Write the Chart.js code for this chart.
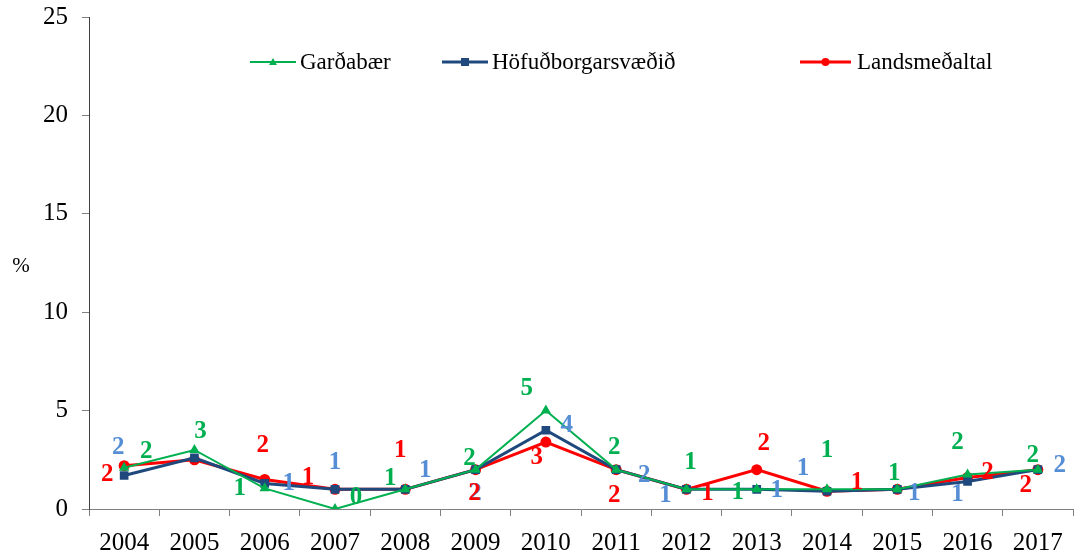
<!DOCTYPE html>
<html>
<head>
<meta charset="utf-8">
<script src="https://cdn.jsdelivr.net/npm/chart.js@4.4.1/dist/chart.umd.min.js"></script>
<style>
  html, body { margin: 0; padding: 0; background: #fff; }
  #wrap { width: 1080px; height: 557px; position: relative; }
</style>
</head>
<body>
<div id="wrap"><canvas id="chart" width="1080" height="557"></canvas></div>
<script>
const years = ['2004', '2005', '2006', '2007', '2008', '2009', '2010', '2011', '2012', '2013', '2014', '2015', '2016', '2017'];
const gardabaer = [2.1, 3.0, 1.05, 0.0, 1.0, 2.0, 5.0, 2.0, 1.0, 1.0, 1.0, 1.0, 1.75, 2.0];
const hofudborg = [1.7, 2.6, 1.3, 1.0, 1.0, 2.0, 4.0, 2.0, 1.0, 1.0, 0.9, 1.0, 1.4, 2.0];
const landsmedal = [2.2, 2.5, 1.5, 1.0, 1.0, 2.0, 3.4, 2.0, 1.0, 2.0, 0.9, 1.0, 1.6, 2.0];
const yTicks = [0, 5, 10, 15, 20, 25];

// where each value label sits relative to its point (px), null = no label
const greenLabelPos = [[22,-16],[6,-18],[-25,0],[21,-11],[-15,-11],[-6,-11],[-19,-22],[-2,-22],[4,-27],[-19,3],[0,-39],[-3,-16],[-10,-32],[-5,-14]];
const blueLabelPos = [[-6,-28],null,[24,0],[0,-27],[20,-19],[0,24],[21,-5],[28,6],[-21,6],[20,1],[-24,-23],[17,4],[-10,13],[22,-4]];
const redLabelPos = [[-17,9],null,[-2,-34],[-27,-12],[-5,-39],[-1,24],[-9,15],[-2,26],[21,4],[7,-26],[30,-9],null,[20,-5],[-12,16]];

const serif = "'Liberation Serif', 'Times New Roman', serif";

const valueLabels = {
  id: 'valueLabels',
  afterDatasetsDraw(chart) {
    const ctx = chart.ctx;
    ctx.save();
    ctx.font = 'bold 25px ' + serif;
    ctx.textAlign = 'center';
    ctx.textBaseline = 'middle';
    chart.data.datasets.forEach((ds, di) => {
      const meta = chart.getDatasetMeta(di);
      ctx.fillStyle = ds.labelColor;
      ds.data.forEach((v, i) => {
        const off = ds.labelPos[i];
        if (!off) return;
        const pt = meta.data[i];
        ctx.fillText(String(Math.round(v)), pt.x + off[0], pt.y + off[1]);
      });
    });
    ctx.restore();
  }
};

const extras = {
  id: 'extras',
  afterDraw(chart) {
    const ctx = chart.ctx;
    ctx.save();
    ctx.fillStyle = '#000';
    ctx.font = '21px ' + serif;
    ctx.textAlign = 'center';
    ctx.textBaseline = 'middle';
    ctx.fillText('%', 21, 266);

    // legend inside the plot
    const items = [
      { x: 250, w: 46, tx: 300, ds: 0 },
      { x: 442, w: 46, tx: 492, ds: 1 },
      { x: 800, w: 51, tx: 857, ds: 2 }
    ];
    const y = 62;
    ctx.textAlign = 'left';
    ctx.font = '23px ' + serif;
    items.forEach(it => {
      const ds = chart.data.datasets[it.ds];
      ctx.strokeStyle = ds.borderColor;
      ctx.lineWidth = ds.borderWidth;
      ctx.beginPath();
      ctx.moveTo(it.x, y);
      ctx.lineTo(it.x + it.w, y);
      ctx.stroke();
      const cx = it.x + it.w / 2;
      ctx.fillStyle = ds.borderColor;
      ctx.beginPath();
      if (ds.pointStyle === 'triangle') {
        ctx.moveTo(cx, y - 4); ctx.lineTo(cx + 4, y + 3); ctx.lineTo(cx - 4, y + 3); ctx.closePath();
      } else if (ds.pointStyle === 'rect') {
        ctx.rect(cx - 4, y - 4, 8, 8);
      } else {
        ctx.arc(cx, y, 4, 0, Math.PI * 2);
      }
      ctx.fill();
      ctx.fillStyle = '#000';
      ctx.fillText(ds.label, it.tx, y + 1);
    });
    ctx.restore();
  }
};

new Chart(document.getElementById('chart'), {
  type: 'line',
  data: {
    labels: years,
    datasets: [
      {
        label: 'Garðabær', data: gardabaer, borderColor: '#00b050', backgroundColor: '#00b050',
        borderWidth: 2, pointStyle: 'triangle', pointRadius: 4, tension: 0,
        labelColor: '#00b050', labelPos: greenLabelPos
      },
      {
        label: 'Höfuðborgarsvæðið', data: hofudborg, borderColor: '#1f497d', backgroundColor: '#1f497d',
        borderWidth: 3, pointStyle: 'rect', pointRadius: 4, tension: 0,
        labelColor: '#558ed5', labelPos: blueLabelPos
      },
      {
        label: 'Landsmeðaltal', data: landsmedal, borderColor: '#ff0000', backgroundColor: '#ff0000',
        borderWidth: 3, pointStyle: 'circle', pointRadius: 4, tension: 0,
        labelColor: '#ff0000', labelPos: redLabelPos
      }
    ]
  },
  options: {
    responsive: false,
    animation: false,
    layout: { padding: { top: 17, right: 3, left: 0, bottom: 0 } },
    plugins: { legend: { display: false }, tooltip: { enabled: false } },
    scales: {
      x: {
        offset: true,
        grid: { offset: true, drawOnChartArea: false, drawTicks: true, tickLength: 7, color: '#808080', lineWidth: 1 },
        border: { display: true, color: '#808080', width: 1 },
        ticks: { color: '#000', font: { family: serif, size: 25 }, padding: 12, maxRotation: 0, autoSkip: false },
        afterFit(scale) { scale.height = 48; scale.paddingLeft = 0; scale.paddingRight = 0; }
      },
      y: {
        min: 0, max: 25,
        afterBuildTicks(scale) { scale.ticks = yTicks.map(v => ({ value: v })); },
        grid: { drawOnChartArea: false, drawTicks: true, tickLength: 7, color: '#808080', lineWidth: 1 },
        border: { display: true, color: '#404040', width: 1 },
        ticks: { color: '#000', font: { family: serif, size: 25 }, padding: 14 },
        afterFit(scale) { scale.width = 89; scale.paddingTop = 0; scale.paddingBottom = 0; }
      }
    }
  },
  plugins: [valueLabels, extras]
});
</script>
</body>
</html>
